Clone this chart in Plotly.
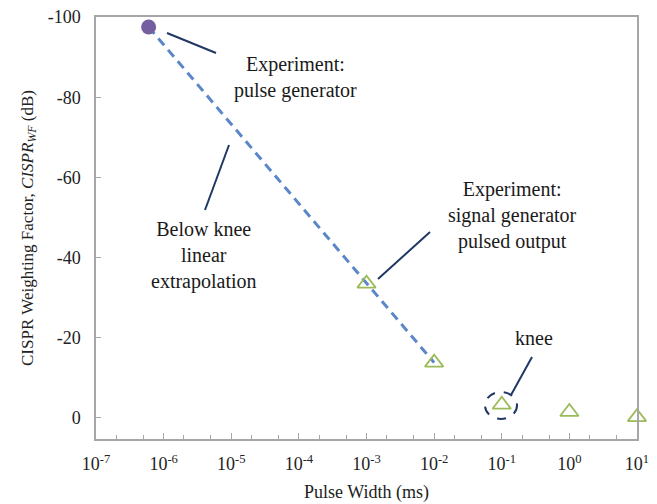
import plotly.graph_objects as go

# Data
pg_x = [6e-7]
pg_y = [-97.5]
sg_x = [1e-3, 1e-2, 1e-1, 1e0, 1e1]
sg_y = [-33.5, -13.8, -3.3, -1.5, -0.2]
ext_x = [6e-7, 1e-2]
ext_y = [-97.5, -13.8]
xtick_vals = [1e-7, 1e-6, 1e-5, 1e-4, 1e-3, 1e-2, 1e-1, 1e0, 1e1]
xtick_text = ["10<sup>-7</sup>", "10<sup>-6</sup>", "10<sup>-5</sup>", "10<sup>-4</sup>",
              "10<sup>-3</sup>", "10<sup>-2</sup>", "10<sup>-1</sup>", "10<sup>0</sup>", "10<sup>1</sup>"]
ytick_vals = [-100, -80, -60, -40, -20, 0]
ytick_text = ["-100", "-80", "-60", "-40", "-20", "0"]

FONT = "Liberation Serif, Times New Roman, serif"
NAVY = "#1f3864"
GREY = "#a6a6a6"

W, H = 657, 504
L, R, T, B = 96, 20, 17, 65
PW, PH = W - L - R, H - T - B


def px(x):
    return (x - L) / PW


def py(y):
    return 1 - (y - T) / PH


fig = go.Figure()
fig.add_trace(go.Scatter(x=ext_x, y=ext_y, mode="lines",
                         line=dict(color="#5b87c8", width=3, dash="9px,6px"),
                         hoverinfo="skip", cliponaxis=False))
fig.add_trace(go.Scatter(x=sg_x, y=sg_y, mode="markers", cliponaxis=False,
                         marker=dict(symbol="triangle-up-open", size=16,
                                     color="#9bbb59", line=dict(width=1.8, color="#9bbb59"))))
fig.add_trace(go.Scatter(x=pg_x, y=pg_y, mode="markers", cliponaxis=False,
                         marker=dict(symbol="circle", size=15, color="#7460a0")))

# leader lines (pixel positions of annotation decorations)
leaders = [((167, 33), (216, 53)),
           ((229, 145), (205, 210)),
           ((378, 279), (430, 232)),
           ((511, 395), (532, 357))]
for (x0, y0), (x1, y1) in leaders:
    fig.add_shape(type="line", xref="paper", yref="paper",
                  x0=px(x0), y0=py(y0), x1=px(x1), y1=py(y1),
                  line=dict(color=NAVY, width=2))

fig.add_shape(type="circle", xref="paper", yref="paper",
              x0=px(485), x1=px(517), y0=py(419), y1=py(392),
              line=dict(color=NAVY, width=2, dash="dash"))

labels = [("Experiment:<br>pulse generator", 295, 77),
          ("Below knee<br>linear<br>extrapolation", 204, 255),
          ("Experiment:<br>signal generator<br>pulsed output", 512, 216),
          ("knee", 534, 338)]
for text, x, y in labels:
    fig.add_annotation(text=text, xref="paper", yref="paper", x=px(x), y=py(y),
                       showarrow=False, xanchor="center", yanchor="middle",
                       font=dict(family=FONT, size=20, color="#1a1a1a"))

fig.update_layout(
    width=W, height=H,
    margin=dict(l=L, r=R, t=T, b=B),
    paper_bgcolor="white", plot_bgcolor="white",
    showlegend=False,
    font=dict(family=FONT, size=16, color="#222222"),
    xaxis=dict(type="log", range=[-7, 1], tickvals=xtick_vals, ticktext=xtick_text,
               automargin=False,
               showline=True, linecolor=GREY, linewidth=1.5, mirror=True,
               ticks="inside", ticklen=6, tickcolor=GREY, showgrid=False, zeroline=False,
               minor=dict(ticks="inside", ticklen=4, tickcolor=GREY, showgrid=False),
               tickfont=dict(family=FONT, size=18), ticklabelstandoff=8,
               title=dict(text="Pulse Width (ms)", font=dict(family=FONT, size=18), standoff=12)),
    yaxis=dict(range=[5.25, -100], tickvals=ytick_vals, ticktext=ytick_text,
               automargin=False,
               showline=True, linecolor=GREY, linewidth=1.5, mirror=True,
               ticks="inside", ticklen=5, tickcolor=GREY, showgrid=False, zeroline=False,
               tickfont=dict(family=FONT, size=18), ticklabelstandoff=10,
               title=dict(text="CISPR Weighting Factor, <i>CISPR</i><sub><i>WF</i></sub> (dB)",
                          font=dict(family=FONT, size=17), standoff=10)),
)

fig.write_html("out.html")
